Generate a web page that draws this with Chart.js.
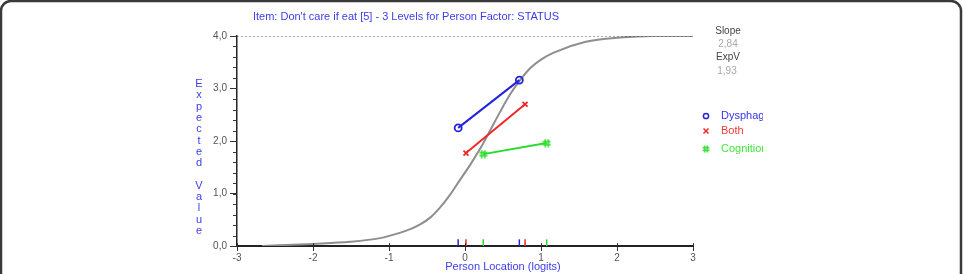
<!DOCTYPE html>
<html>
<head>
<meta charset="utf-8">
<script src="https://cdn.jsdelivr.net/npm/chart.js@4/dist/chart.umd.min.js"></script>
<style>
html,body{margin:0;padding:0;background:#fff;overflow:hidden;}
canvas{display:block;}
</style>
</head>
<body>
<canvas id="c" width="963" height="274"></canvas>
<script>
// ---- data ----
const xTicks = [-3, -2, -1, 0, 1, 2, 3];
const yTicks = [0, 1, 2, 3, 4];
const curveX = [-2.67, -2.0, -1.51, -1.12, -0.86, -0.72, -0.59, -0.45, -0.33, -0.20, -0.07, 0.07, 0.21, 0.33, 0.46, 0.59, 0.71, 0.86, 1.0, 1.16, 1.59, 2.04, 2.47, 3.0];
const curveY = [0.0, 0.04, 0.08, 0.15, 0.25, 0.32, 0.41, 0.55, 0.73, 0.97, 1.25, 1.55, 1.88, 2.20, 2.55, 2.88, 3.13, 3.39, 3.55, 3.68, 3.89, 3.97, 4.0, 4.0];
const groups = ["Dysphagia", "Both", "Cognition"];
const dysX = [-0.09, 0.715];
const dysY = [2.25, 3.16];
const bothX = [0.013, 0.79];
const bothY = [1.77, 2.70];
const cogX = [0.24, 1.075];
const cogY = [1.75, 1.96];
const refX = [-3, 3];
const refY = [4, 4];
const rugY = 0.06;
const slopeText = "2,84";
const expVText = "1,93";
const titleText = "Item: Don't care if eat [5] - 3 Levels for Person Factor: STATUS";
const yTitle = "Expected Value";
const xTitle = "Person Location (logits)";

const BLUE = '#2323dc', RED = '#f02828', GREEN = '#28dc28';
const FONT = '"Liberation Sans", Arial, sans-serif';

function hashStyle(color) {
  const c = document.createElement('canvas');
  c.width = 9; c.height = 9;
  const g = c.getContext('2d');
  g.strokeStyle = color; g.lineWidth = 1.5;
  g.beginPath();
  g.moveTo(3, 0.5); g.lineTo(3, 8.5);
  g.moveTo(6, 0.5); g.lineTo(6, 8.5);
  g.moveTo(0.5, 3); g.lineTo(8.5, 3);
  g.moveTo(0.5, 6); g.lineTo(8.5, 6);
  g.stroke();
  return c;
}
const hashImg = hashStyle(GREEN);

const zip = (xs, ys) => xs.map((x, i) => ({x: x, y: ys[i]}));
const rug = xs => xs.map(x => ({x: x, y: rugY}));

function rugSet(xs, color) {
  return {data: rug(xs), showLine: false, pointStyle: 'line', rotation: 90,
    pointRadius: 3.5, borderColor: color, borderWidth: 1.5, pointHoverRadius: 3.5};
}

const decor = {
  id: 'decor',
  afterDraw(chart) {
    const ctx = chart.ctx;
    const ca = chart.chartArea;
    const ys = chart.scales.y, xs = chart.scales.x;
    ctx.save();
    // minor y ticks
    ctx.strokeStyle = '#333'; ctx.lineWidth = 1;
    for (let v = 0; v <= 4.0001; v += 0.2) {
      const p = Math.round(ys.getPixelForValue(v)) + 0.5;
      ctx.beginPath(); ctx.moveTo(ca.left - 4, p); ctx.lineTo(ca.left, p); ctx.stroke();
    }
    // inner part of x ticks
    xTicks.forEach(v => {
      const p = Math.round(xs.getPixelForValue(v)) + 0.5;
      ctx.beginPath(); ctx.moveTo(p, ca.bottom - 3); ctx.lineTo(p, ca.bottom); ctx.stroke();
    });
    // title
    ctx.fillStyle = '#3d3dea';
    ctx.font = '11px ' + FONT;
    ctx.textAlign = 'center'; ctx.textBaseline = 'middle';
    ctx.fillText(titleText, 406, 17);
    // x title
    ctx.fillText(xTitle, 503, 267);
    // y title: stacked letters
    const letters = yTitle.split('');
    letters.forEach((ch, i) => {
      if (ch !== ' ') ctx.fillText(ch, 199, 84 + i * 11.3);
    });
    // slope / expV
    ctx.font = '10px ' + FONT;
    ctx.fillStyle = '#444';
    ctx.fillText('Slope', 728, 31);
    ctx.fillText('ExpV', 728, 57);
    ctx.fillStyle = '#a8a8a8';
    ctx.fillText(slopeText, 728, 44);
    ctx.fillText(expVText, 727, 71);
    // legend
    const cols = ['#3434ee', '#f03a3a', '#3ce83c'];
    const ly = [116, 131, 149];
    ctx.save();
    ctx.beginPath(); ctx.rect(700, 100, 63, 60); ctx.clip();
    ctx.font = '11px ' + FONT;
    ctx.textAlign = 'left';
    groups.forEach((g, i) => {
      ctx.fillStyle = cols[i];
      ctx.fillText(g, 721, ly[i]);
    });
    ctx.restore();
    // legend markers
    ctx.lineWidth = 1.5;
    ctx.strokeStyle = BLUE;
    ctx.beginPath(); ctx.arc(706, 116, 2.6, 0, Math.PI * 2); ctx.stroke();
    ctx.strokeStyle = RED;
    ctx.beginPath(); ctx.moveTo(703.5, 128.5); ctx.lineTo(708.5, 133.5); ctx.moveTo(708.5, 128.5); ctx.lineTo(703.5, 133.5); ctx.stroke();
    ctx.drawImage(hashImg, 702, 145, 8, 8);
    // frame
    ctx.strokeStyle = '#3a3a3a'; ctx.lineWidth = 2.5;
    ctx.beginPath();
    ctx.roundRect(1, 1, 960, 320, 10);
    ctx.stroke();
    ctx.restore();
  }
};

new Chart(document.getElementById('c'), {
  type: 'scatter',
  data: {
    datasets: [
      {label: groups[0], data: zip(dysX, dysY), showLine: true, borderColor: BLUE, backgroundColor: 'rgba(0,0,0,0)',
        borderWidth: 2, pointStyle: 'circle', pointRadius: 3.5, pointBorderWidth: 1.8, pointBorderColor: BLUE, pointBackgroundColor: 'rgba(255,255,255,0)'},
      {label: groups[1], data: zip(bothX, bothY), showLine: true, borderColor: RED, backgroundColor: RED,
        borderWidth: 2, pointStyle: 'crossRot', pointRadius: 3.5, pointBorderWidth: 1.8, pointBorderColor: RED},
      {label: groups[2], data: zip(cogX, cogY), showLine: true, borderColor: GREEN, backgroundColor: GREEN,
        borderWidth: 2, pointStyle: hashImg, pointRadius: 4},
      rugSet(dysX, BLUE),
      rugSet(bothX, RED),
      rugSet(cogX, GREEN),
      {data: zip(refX, refY), showLine: true, borderColor: '#555', borderWidth: 1, borderDash: [2, 2], pointRadius: 0},
      {data: zip(curveX, curveY), showLine: true, borderColor: '#8e8e8e', borderWidth: 2, pointRadius: 0, cubicInterpolationMode: 'monotone'}
    ]
  },
  options: {
    responsive: false,
    animation: false,
    events: [],
    layout: {padding: {left: 0, right: 270, top: 36, bottom: 0}},
    plugins: {legend: {display: false}, tooltip: {enabled: false}, title: {display: false}},
    scales: {
      x: {
        type: 'linear', min: -3, max: 3,
        afterBuildTicks: s => { s.ticks = xTicks.map(v => ({value: v})); },
        afterFit: s => { s.height = 28; },
        grid: {drawOnChartArea: false, tickLength: 5, tickColor: '#333'},
        border: {color: '#222', width: 2},
        ticks: {color: '#555', font: {family: FONT, size: 10}, padding: 1, maxRotation: 0,
          callback: v => String(v)}
      },
      y: {
        type: 'linear', min: 0, max: 4,
        afterBuildTicks: s => { s.ticks = yTicks.map(v => ({value: v})); },
        afterFit: s => { s.width = 237; },
        grid: {drawOnChartArea: false, tickLength: 7, tickColor: '#333'},
        border: {color: '#222', width: 1.5},
        ticks: {color: '#555', font: {family: FONT, size: 10}, padding: 3,
          callback: v => v.toFixed(1).replace('.', ',')}
      }
    }
  },
  plugins: [decor]
});
</script>
</body>
</html>
